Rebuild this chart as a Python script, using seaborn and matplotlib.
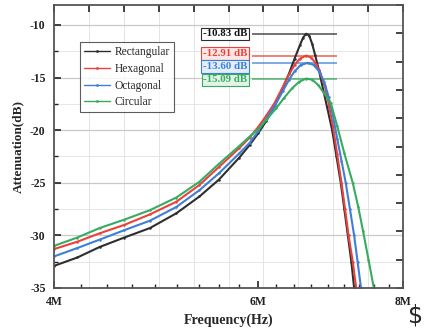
import matplotlib
matplotlib.use("Agg")
import matplotlib.pyplot as plt
import matplotlib.ticker as mticker
import numpy as np
import pandas as pd
import seaborn as sns

# frequencies in MHz, attenuation in dB
rect_freq = [4.0, 4.19, 4.38, 4.6, 4.84, 5.1, 5.34, 5.55, 5.78, 5.9, 6.0, 6.1, 6.2, 6.3, 6.38,
             6.45, 6.52, 6.56, 6.60, 6.64, 6.68, 6.72, 6.77, 6.81, 6.88, 6.95, 7.01, 7.07,
             7.12, 7.17, 7.22, 7.26, 7.30]
rect_db = [-32.9, -32.1, -31.1, -30.2, -29.3, -27.9, -26.3, -24.7, -22.6, -21.4, -20.3, -19.1,
           -17.7, -16.0, -14.6, -13.2, -11.9, -11.2, -10.83, -11.0, -11.8, -12.9, -14.3, -15.6,
           -17.8, -20.0, -22.5, -25.0, -27.5, -30.0, -32.5, -35.0, -37.0]

hex_freq = [4.0, 4.19, 4.38, 4.6, 4.84, 5.1, 5.34, 5.55, 5.78, 5.9, 6.0, 6.1, 6.2, 6.3, 6.38,
            6.45, 6.52, 6.60, 6.67, 6.73, 6.79, 6.85, 6.90, 6.96, 7.02, 7.08, 7.13, 7.18,
            7.24, 7.29, 7.33]
hex_db = [-31.3, -30.6, -29.8, -29.0, -28.0, -26.8, -25.2, -23.5, -21.7, -20.7, -19.7, -18.6,
          -17.4, -15.9, -14.7, -13.8, -13.2, -12.91, -13.1, -13.7, -14.6, -15.8, -17.4, -19.6,
          -22.3, -25.0, -27.5, -30.0, -32.5, -35.0, -37.0]

oct_freq = [4.0, 4.19, 4.38, 4.6, 4.84, 5.1, 5.34, 5.55, 5.78, 5.9, 6.0, 6.1, 6.2, 6.3, 6.38,
            6.45, 6.53, 6.62, 6.70, 6.77, 6.84, 6.90, 6.96, 7.02, 7.08, 7.14, 7.20, 7.26,
            7.31, 7.36, 7.41]
oct_db = [-32.0, -31.2, -30.4, -29.5, -28.6, -27.3, -25.7, -24.1, -22.2, -21.2, -20.1, -18.9,
          -17.7, -16.3, -15.2, -14.4, -13.8, -13.60, -13.8, -14.4, -15.4, -16.8, -18.6, -20.8,
          -22.9, -25.0, -27.5, -30.0, -32.5, -35.0, -37.0]

circ_freq = [4.0, 4.19, 4.38, 4.6, 4.84, 5.1, 5.34, 5.55, 5.78, 5.9, 6.0, 6.1, 6.22, 6.32,
             6.42, 6.51, 6.60, 6.68, 6.76, 6.84, 6.93, 7.02, 7.12, 7.24, 7.32, 7.39, 7.47,
             7.55, 7.60]
circ_db = [-31.0, -30.2, -29.3, -28.5, -27.6, -26.4, -24.9, -23.2, -21.5, -20.6, -19.9, -19.0,
           -17.9, -16.9, -16.0, -15.4, -15.09, -15.2, -15.7, -16.5, -17.4, -19.6, -22.2, -25.0,
           -27.3, -29.6, -32.3, -35.0, -36.8]

shapes = ["Rectangular", "Hexagonal", "Octagonal", "Circular"]
peak_db = [-10.83, -12.91, -13.60, -15.09]
peak_text = ["-10.83 dB", "-12.91 dB", "-13.60 dB", "-15.09 dB"]
label_y = [-10.83, -12.70, -13.95, -15.20]
colors = ["#2e2e2e", "#e8433b", "#3d7fd6", "#37ab60"]
box_fill = ["#ffffff", "#fde6e4", "#e4eefb", "#e2f4e8"]

X_MIN, X_MAX = 4e6, 8e6
Y_MIN, Y_MAX = -35, -8.1

series = [(rect_freq, rect_db), (hex_freq, hex_db), (oct_freq, oct_db), (circ_freq, circ_db)]
frames = []
for name, (f, d) in zip(shapes, series):
    frames.append(pd.DataFrame({"shape": name, "freq": np.array(f) * 1e6, "atten": d}))
df = pd.concat(frames, ignore_index=True)

sns.set_theme(style="ticks")
plt.rcParams["font.family"] = ["Liberation Serif", "DejaVu Serif"]
plt.rcParams["xtick.direction"] = "in"
plt.rcParams["ytick.direction"] = "in"

fig = plt.figure(figsize=(4.37, 3.36), dpi=100)
pos = [54 / 437, 48 / 336, 349 / 437, 283 / 336]
ax_grid = fig.add_axes(pos)
ax = fig.add_axes(pos)
ax.patch.set_visible(False)

# background axes: linear 10-division vertical grid
ax_grid.set_xlim(0, 1)
ax_grid.set_ylim(0, 1)
ax_grid.set_xticks(np.arange(0, 1.01, 0.1))
ax_grid.tick_params(left=False, bottom=False, labelleft=False, labelbottom=False)
ax_grid.grid(True, axis="x", color="#e4e4e4", lw=0.7)
ax_grid.grid(False, axis="y")
for s in ax_grid.spines.values():
    s.set_visible(False)

sns.lineplot(data=df, x="freq", y="atten", hue="shape", palette=colors, sort=False,
             estimator=None, marker="o", markersize=1.8, markeredgewidth=0, lw=1.5, ax=ax)

ax.set_xscale("log")
ax.set_xlim(X_MIN, X_MAX)
ax.set_ylim(Y_MIN, Y_MAX)
ax.xaxis.set_major_locator(mticker.FixedLocator([4e6, 6e6, 8e6]))
ax.xaxis.set_major_formatter(mticker.FixedFormatter(["4M", "6M", "8M"]))
ax.xaxis.set_minor_locator(mticker.FixedLocator(np.linspace(X_MIN, X_MAX, 19)))
ax.xaxis.set_minor_formatter(mticker.NullFormatter())
ax.yaxis.set_major_locator(mticker.MultipleLocator(5))
ax.yaxis.set_minor_locator(mticker.MultipleLocator(2.5))
ax.yaxis.set_major_formatter(mticker.FuncFormatter(lambda v, p: "%d" % v))
ax.tick_params(which="major", direction="in", length=5, width=1.2, color="#222222",
               labelsize=8.5, pad=6)
ax.tick_params(which="minor", direction="in", length=3, width=1.0, color="#222222")
ax.tick_params(top=False, right=False, bottom=True, left=True, which="both")
for lab in ax.get_xticklabels() + ax.get_yticklabels():
    lab.set_fontweight("bold")
    lab.set_color("#222222")
ax.grid(True, axis="y", which="major", color="#c9c9c9", lw=0.9)
ax.grid(True, axis="y", which="minor", color="#e6e6e6", lw=0.7)
for s in ax.spines.values():
    s.set_visible(True)
    s.set_color("#555555")
    s.set_linewidth(1.3)

# top and right axes with plain 10-division ticks
top = ax.secondary_xaxis("top", functions=(lambda x: np.log(np.clip(x, 1, None) / X_MIN) / np.log(X_MAX / X_MIN),
                                           lambda t: X_MIN * (X_MAX / X_MIN) ** t))
top.set_xticks(np.arange(0, 1.01, 0.1))
top.xaxis.set_minor_locator(mticker.NullLocator())
top.tick_params(axis="x", which="major", top=True, direction="in", length=5, width=1.2,
                color="#222222", labeltop=False)
top.spines["top"].set_visible(False)
right = ax.secondary_yaxis("right", functions=(lambda y: (y - Y_MIN) / (Y_MAX - Y_MIN),
                                               lambda t: Y_MIN + t * (Y_MAX - Y_MIN)))
right.set_yticks(np.arange(0, 1.01, 0.1))
right.yaxis.set_minor_locator(mticker.NullLocator())
right.tick_params(axis="y", which="major", right=True, direction="in", length=5, width=1.2,
                  color="#222222", labelright=False)
right.spines["right"].set_visible(False)

ax.set_xlabel("Frequency(Hz)", fontsize=10, fontweight="bold", labelpad=4)
ax.set_ylabel("Attenuation(dB)", fontsize=9.5, fontweight="bold", labelpad=4)

# peak levels and their labels
for i in range(4):
    ax.hlines(peak_db[i], 5.93e6, 7.02e6, color=colors[i], lw=1.1, alpha=0.85, zorder=1)
    ax.text(5.62e6, label_y[i], peak_text[i], ha="center", va="center", fontsize=7.8,
            fontweight="bold", color=colors[i] if i else "#111111", zorder=5,
            bbox=dict(boxstyle="square,pad=0.15", fc=box_fill[i], ec=colors[i], lw=0.8))

leg = ax.legend(loc="upper left", bbox_to_anchor=(0.074, 0.868), frameon=True, fancybox=False,
                fontsize=8.3, handlelength=2.3, borderpad=0.35, labelspacing=0.4,
                handletextpad=0.4, borderaxespad=0)
leg.get_frame().set_edgecolor("#333333")
leg.get_frame().set_linewidth(0.8)
for h in leg.get_lines():
    h.set_linewidth(1.0)
    h.set_marker("o")
    h.set_markersize(2)

fig.text(0.95, 0.06, "$", fontsize=17, family="DejaVu Sans", ha="center", va="center")

fig.savefig("out.png", dpi=100)
